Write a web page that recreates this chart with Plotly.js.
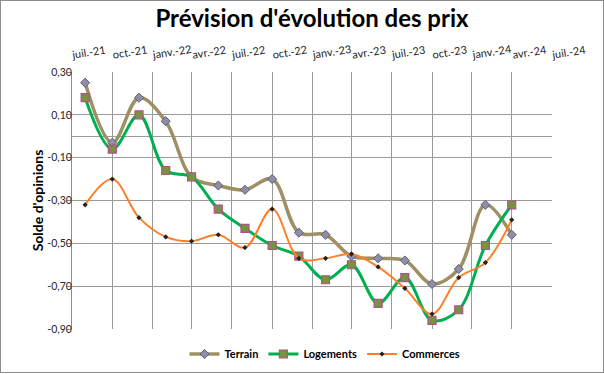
<!DOCTYPE html>
<html>
<head>
<meta charset="utf-8">
<script src="https://cdn.plot.ly/plotly-3.0.1.min.js"></script>
<style>
  html, body { margin: 0; padding: 0; background: #fff; }
  #chart { width: 602px; height: 371px; border: 1px solid #8c8c8c; }
</style>
</head>
<body>
<div id="chart"></div>
<script>
// Survey dates (bimonthly)
const months = ['2021-07-01','2021-09-01','2021-11-01','2022-01-01','2022-03-01','2022-05-01',
                '2022-07-01','2022-09-01','2022-11-01','2023-01-01','2023-03-01','2023-05-01',
                '2023-07-01','2023-09-01','2023-11-01','2024-01-01','2024-03-01'];

const terrain   = [0.25, -0.03, 0.18, 0.07, -0.19, -0.23, -0.25, -0.20, -0.45, -0.46, -0.56, -0.57, -0.58, -0.69, -0.62, -0.32, -0.46];
const logements = [0.18, -0.06, 0.10, -0.16, -0.19, -0.34, -0.43, -0.51, -0.56, -0.67, -0.60, -0.78, -0.66, -0.86, -0.81, -0.51, -0.32];
const commerces = [-0.32, -0.20, -0.38, -0.47, -0.49, -0.46, -0.52, -0.34, -0.57, -0.57, -0.55, -0.61, -0.71, -0.83, -0.66, -0.59, -0.39];

// Quarterly tick labels (top axis)
const tickDates  = ['2021-07-01','2021-10-01','2022-01-01','2022-04-01','2022-07-01','2022-10-01',
                    '2023-01-01','2023-04-01','2023-07-01','2023-10-01','2024-01-01','2024-04-01','2024-07-01'];
const tickLabels = ['juil.-21','oct.-21','janv.-22','avr.-22','juil.-22','oct.-22',
                    'janv.-23','avr.-23','juil.-23','oct.-23','janv.-24','avr.-24','juil.-24'];

// Vertical gridline dates
const gridDates = ['2021-06-01','2021-09-01','2021-12-01','2022-03-01','2022-06-01','2022-09-01',
                   '2022-12-01','2023-03-01','2023-06-01','2023-09-01','2023-12-01','2024-03-01','2024-06-01'];

const yTickVals   = [0.30, 0.10, -0.10, -0.30, -0.50, -0.70, -0.90];
const yTickLabels = ['0,30', '0,10', '-0,10', '-0,30', '-0,50', '-0,70', '-0,90'];

const FONT = 'Lato, "Open Sans", sans-serif';
const W = 602, H = 371, ML = 71, MR = 8, MT = 71, MB = 43;
const plotW = W - ML - MR;            // 523
const mainW = 480;                    // width of the framed plot area
const t0 = Date.UTC(2021, 5, 1), t1 = Date.UTC(2024, 5, 1);
const t2 = t0 + (t1 - t0) * plotW / mainW;

const traces = [
  {
    name: 'Terrain', x: months, y: terrain, type: 'scatter', mode: 'lines+markers',
    line: { color: '#9E9064', width: 3.5, shape: 'spline', smoothing: 1 },
    marker: { symbol: 'diamond', size: 7, color: '#8E8EA8', line: { color: '#5F5F72', width: 1 } },
    xaxis: 'x', yaxis: 'y'
  },
  {
    name: 'Logements', x: months, y: logements, type: 'scatter', mode: 'lines+markers',
    line: { color: '#00B050', width: 3, shape: 'spline', smoothing: 1 },
    marker: { symbol: 'square', size: 8, color: '#77933C', line: { color: '#B0508E', width: 1.2 } },
    xaxis: 'x', yaxis: 'y'
  },
  {
    name: 'Commerces', x: months, y: commerces, type: 'scatter', mode: 'lines+markers',
    line: { color: '#FF7F27', width: 2, shape: 'spline', smoothing: 1 },
    marker: { symbol: 'diamond', size: 4, color: '#222222' },
    xaxis: 'x', yaxis: 'y'
  },
  // invisible helper so that the top label axis (x2/y2) is drawn
  {
    name: 'axis', x: months, y: terrain, type: 'scatter', mode: 'lines',
    opacity: 0, showlegend: false, hoverinfo: 'skip',
    xaxis: 'x2', yaxis: 'y2'
  }
];

const layout = {
  width: W, height: H,
  margin: { l: ML, r: MR, t: MT, b: MB, autoexpand: false },
  paper_bgcolor: '#ffffff',
  plot_bgcolor: 'rgba(0,0,0,0)',
  font: { family: FONT, color: '#262626', size: 11 },
  title: {
    text: "Prévision d'évolution des prix",
    font: { family: FONT, size: 24, weight: 'bold', color: '#000000' },
    xref: 'container', x: 311 / W, xanchor: 'center',
    yref: 'container', y: 1 - 18 / H, yanchor: 'middle'
  },
  showlegend: true,
  legend: {
    orientation: 'h', xref: 'container', x: 324 / W, xanchor: 'center',
    yref: 'container', y: 1 - 353 / H, yanchor: 'middle',
    font: { family: FONT, size: 11, weight: 'bold', color: '#000000' },
    itemwidth: 30, traceorder: 'normal'
  },
  xaxis: {
    type: 'date', domain: [0, mainW / plotW], range: [t0, t1],
    tickmode: 'array', tickvals: gridDates, showticklabels: false,
    showgrid: true, gridcolor: '#9A9A9A', gridwidth: 1,
    showline: false, zeroline: false, ticks: '', fixedrange: true
  },
  xaxis3: {
    type: 'date', overlaying: 'x', range: [t0, t1],
    tickmode: 'array', tickvals: [months[0]], showticklabels: false,
    showgrid: true, gridcolor: '#CDCDCD', gridwidth: 1.5,
    showline: false, zeroline: false, ticks: ''
  },
  xaxis2: {
    type: 'date', domain: [0, 1], range: [t0, t2], anchor: 'y2', side: 'top',
    tickmode: 'array', tickvals: tickDates, ticktext: tickLabels,
    tickangle: -9, ticklabelshift: -13, ticklabelstandoff: 10,
    tickfont: { family: FONT, size: 11, color: '#262626' },
    showgrid: false, showline: false, zeroline: false, ticks: ''
  },
  yaxis: {
    range: [-0.90, 0.30], tickmode: 'array', tickvals: yTickVals, ticktext: yTickLabels,
    showgrid: true, gridcolor: '#9A9A9A', gridwidth: 1,
    zeroline: true, zerolinecolor: '#9A9A9A', zerolinewidth: 1,
    showline: true, linecolor: '#8C8C8C', linewidth: 1,
    ticks: 'outside', ticklen: 4, tickcolor: '#8C8C8C', ticklabelstandoff: -7,
    tickfont: { family: FONT, size: 10.5, color: '#262626' },
    title: { text: "Solde d'opinions", font: { family: FONT, size: 14, weight: 'bold', color: '#000000' }, standoff: 0 },
    fixedrange: true
  },
  yaxis2: {
    domain: [0, 1], range: [-0.90, 0.30], anchor: 'x2', visible: false,
    showgrid: false, zeroline: false
  }
};

Plotly.newPlot('chart', traces, layout, { displayModeBar: false, staticPlot: true });
</script>
</body>
</html>
